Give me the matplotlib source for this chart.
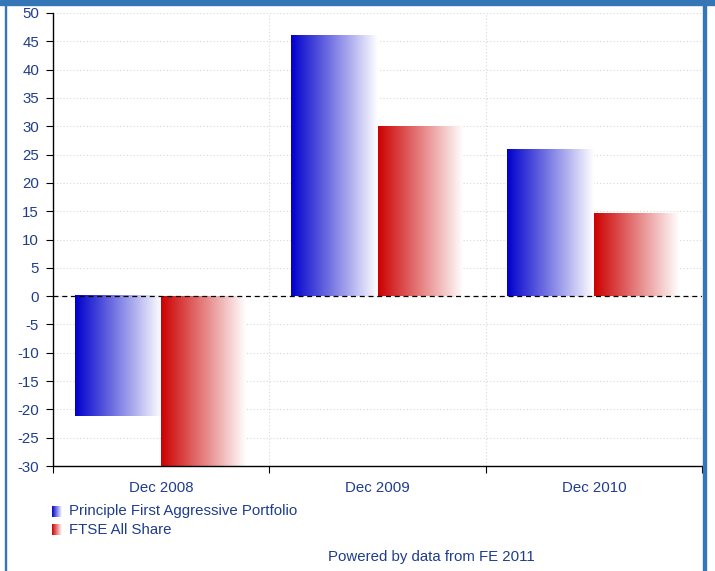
import matplotlib
matplotlib.use('Agg')
import matplotlib.pyplot as plt
import numpy as np
from matplotlib.patches import Rectangle

# data
categories = ['Dec 2008', 'Dec 2009', 'Dec 2010']
portfolio = [-21.2, 46.0, 25.8]
ftse = [-30.3, 30.0, 14.6]
series_names = ['Principle First Aggressive Portfolio', 'FTSE All Share']

BLUE = (0.0, 0.0, 0.80)
RED = (0.80, 0.0, 0.0)
TXT = '#1f3d8f'
FRAME = '#3476b6'

plt.rcParams['font.family'] = ['Liberation Sans', 'DejaVu Sans']
plt.rcParams['axes.unicode_minus'] = False

W, H = 715, 571
fig = plt.figure(figsize=(W / 100, H / 100), dpi=100)


def gradient(col, n=256):
    t = np.linspace(0, 1, n)[None, :, None]
    c = np.array(col)[None, None, :]
    return c * (1 - t) + 1.0 * t


ax = fig.add_axes([53 / W, 105 / H, 649 / W, 453 / H])

bw = 0.4
for i, (p, f) in enumerate(zip(portfolio, ftse)):
    c = i + 0.5
    ax.imshow(gradient(BLUE), extent=[c - bw, c, 0, p], aspect='auto',
              interpolation='bilinear', zorder=2)
    ax.imshow(gradient(RED), extent=[c, c + bw - 0.01, 0, f], aspect='auto',
              interpolation='bilinear', zorder=2)
ax.set_xlim(0, 3)
ax.set_ylim(-30, 50)

ax.axhline(0, color='black', lw=0.9, ls=(0, (4, 3)), zorder=3)

ax.set_yticks(np.arange(-30, 51, 5))
ax.set_xticks([0, 1, 2, 3])
ax.set_xticklabels([])
ax.set_xticks([0.5, 1.5, 2.5], minor=True)
ax.set_xticklabels(categories, minor=True)
ax.tick_params(axis='x', which='minor', length=0, pad=11, labelsize=10.8, labelcolor=TXT)
ax.tick_params(axis='x', which='major', length=5, direction='out')
ax.tick_params(axis='y', length=5, direction='out', labelsize=10.8, labelcolor=TXT, pad=5)
ax.grid(True, which='major', color='#d8d8d8', ls=(0, (1, 2)), lw=0.8, zorder=0)
ax.set_axisbelow(True)
for s in ['top', 'right']:
    ax.spines[s].set_visible(False)
ax.spines['left'].set_linewidth(1.0)
ax.spines['bottom'].set_linewidth(1.0)

# legend
for k, (col, name) in enumerate(zip([BLUE, RED], series_names)):
    ytop = 506 + k * 18
    lax = fig.add_axes([52 / W, (H - ytop - 11) / H, 10 / W, 11 / H])
    lax.imshow(gradient(col), aspect='auto', interpolation='bilinear')
    lax.axis('off')
    fig.text(69 / W, (H - ytop - 5.5) / H, name, color=TXT, fontsize=10.8, va='center')

fig.text(431 / W, (H - 557) / H, 'Powered by data from FE 2011', color=TXT,
         fontsize=10.8, ha='center', va='center')

# frame
fig.patches.append(Rectangle((0, 1 - 5 / H), 1, 5 / H, transform=fig.transFigure,
                             color=FRAME, zorder=10))
fig.patches.append(Rectangle((4.5 / W, 0), 1.2 / W, 1, transform=fig.transFigure,
                             color=FRAME, zorder=10))
fig.patches.append(Rectangle((702.5 / W, 0), 3 / W, 1, transform=fig.transFigure,
                             color=FRAME, zorder=10))

fig.savefig('out.png', dpi=100)
